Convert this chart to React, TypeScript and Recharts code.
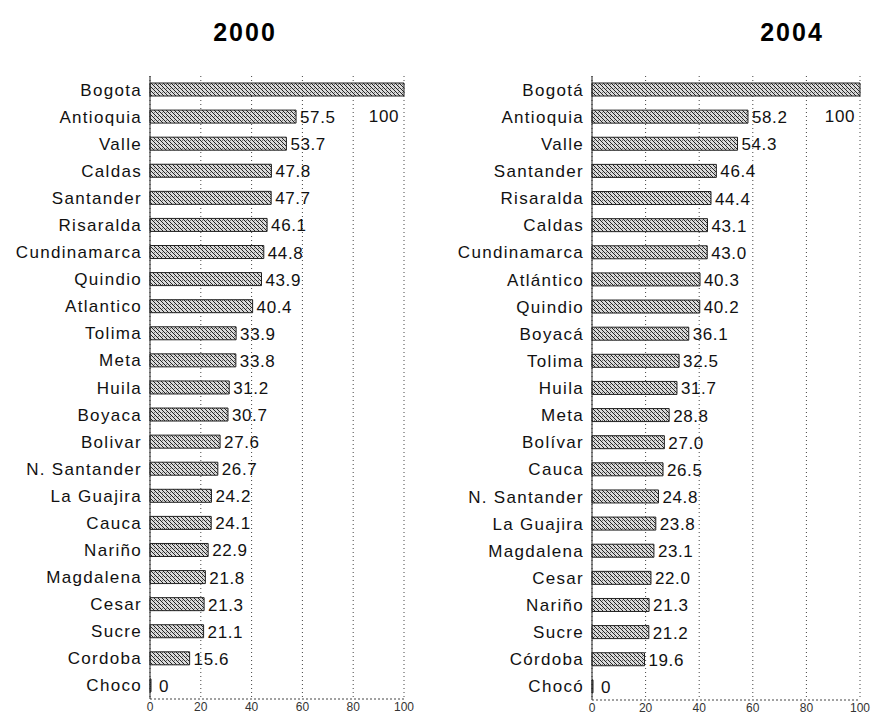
import { Bar, BarChart, CartesianGrid, LabelList, XAxis, YAxis } from "recharts";

const regions2000 = [
  "Bogota", "Antioquia", "Valle", "Caldas", "Santander", "Risaralda", "Cundinamarca", "Quindio",
  "Atlantico", "Tolima", "Meta", "Huila", "Boyaca", "Bolivar", "N. Santander", "La Guajira",
  "Cauca", "Nariño", "Magdalena", "Cesar", "Sucre", "Cordoba", "Choco",
];
const values2000 = [
  100, 57.5, 53.7, 47.8, 47.7, 46.1, 44.8, 43.9, 40.4, 33.9, 33.8, 31.2, 30.7, 27.6, 26.7, 24.2,
  24.1, 22.9, 21.8, 21.3, 21.1, 15.6, 0,
];

const regions2004 = [
  "Bogotá", "Antioquia", "Valle", "Santander", "Risaralda", "Caldas", "Cundinamarca", "Atlántico",
  "Quindio", "Boyacá", "Tolima", "Huila", "Meta", "Bolívar", "Cauca", "N. Santander", "La Guajira",
  "Magdalena", "Cesar", "Nariño", "Sucre", "Córdoba", "Chocó",
];
const values2004 = [
  100, 58.2, 54.3, 46.4, 44.4, 43.1, 43.0, 40.3, 40.2, 36.1, 32.5, 31.7, 28.8, 27.0, 26.5, 24.8,
  23.8, 23.1, 22.0, 21.3, 21.2, 19.6, 0,
];

const xTicks = [0, 20, 40, 60, 80, 100];

const FONT = '"Liberation Sans", Arial, sans-serif';

function fmt(v: number) {
  if (v === 0 || v === 100) return String(v);
  return v.toFixed(1);
}

function ValueLabel(props: any) {
  const { x, y, width, height, value } = props;
  const common = { fontFamily: FONT, fontSize: 17, fill: "#111", letterSpacing: 0.6 };
  if (value >= 100) {
    return (
      <text x={x + width - 5} y={y + height / 2 + 27} dominantBaseline="central" textAnchor="end" {...common}>
        {fmt(value)}
      </text>
    );
  }
  return (
    <text x={x + width + (value === 0 ? 8 : 4)} y={y + height / 2 + 1} dominantBaseline="central" {...common}>
      {fmt(value)}
    </text>
  );
}

function RegionChart({ names, values, width, yWidth, right, xHeight }: {
  names: string[]; values: number[]; width: number; yWidth: number; right: number; xHeight: number;
}) {
  const data = names.map((name, i) => ({ name, value: values[i] }));
  return (
    <BarChart width={width} height={718} data={data} layout="vertical" barSize={13}
      margin={{ top: 76, right, left: 0, bottom: 0 }}>
      <CartesianGrid horizontal={false} stroke="#444" strokeDasharray="1 3" />
      <XAxis type="number" domain={[0, 100]} ticks={xTicks} interval={0} height={xHeight}
        tickLine={false} tickSize={0} tickMargin={3}
        axisLine={{ stroke: "#444", strokeDasharray: "2 2" }}
        tick={{ fontSize: 12, fill: "#333", fontFamily: FONT }} />
      <YAxis type="category" dataKey="name" width={yWidth} interval={0}
        tickLine={false} tickSize={0} tickMargin={8}
        axisLine={{ stroke: "#222" }}
        tick={{ fontSize: 17, fill: "#111", fontFamily: FONT, letterSpacing: 1.3 }} />
      <Bar dataKey="value" fill="url(#hatch)" stroke="#222" strokeWidth={1} minPointSize={1}
        isAnimationActive={false}>
        <LabelList dataKey="value" content={ValueLabel} />
      </Bar>
    </BarChart>
  );
}

export default function App() {
  return (
    <div style={{ position: "absolute", left: 0, top: 0, width: 873, height: 718, background: "#fff", fontFamily: FONT }}>
      <svg width={0} height={0} style={{ position: "absolute" }}>
        <defs>
          <pattern id="hatch" width={4} height={4} patternUnits="userSpaceOnUse">
            <rect width={4} height={4} fill="#dadada" />
            <rect x={0} y={0} width={1} height={1} fill="#222" />
            <rect x={1} y={1} width={1} height={1} fill="#222" />
            <rect x={2} y={2} width={1} height={1} fill="#222" />
            <rect x={3} y={3} width={1} height={1} fill="#222" />
            <rect x={2} y={0} width={1} height={1} fill="#777" />
          </pattern>
        </defs>
      </svg>
      <div style={{ position: "absolute", left: 195, top: 18, width: 100, textAlign: "center", fontSize: 25, fontWeight: "bold", letterSpacing: 2 }}>
        2000
      </div>
      <div style={{ position: "absolute", left: 742, top: 18, width: 100, textAlign: "center", fontSize: 25, fontWeight: "bold", letterSpacing: 2 }}>
        2004
      </div>
      <div style={{ position: "absolute", left: 0, top: 0 }}>
        <RegionChart names={regions2000} values={values2000} width={440} yWidth={150} right={36} xHeight={19} />
      </div>
      <div style={{ position: "absolute", left: 440, top: 0 }}>
        <RegionChart names={regions2004} values={values2004} width={433} yWidth={152} right={13} xHeight={18} />
      </div>
    </div>
  );
}
